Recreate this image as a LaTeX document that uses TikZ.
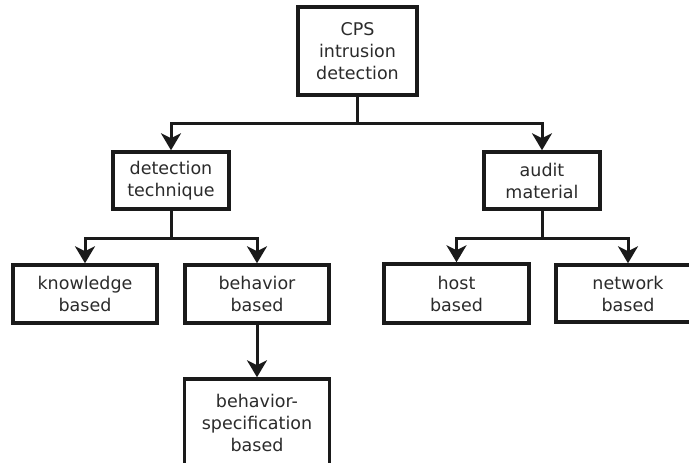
\documentclass[tikz,border=0pt]{standalone}
\usepackage{fontspec}
\setmainfont{DejaVu Sans}
\usetikzlibrary{arrows.meta}
\definecolor{txt}{HTML}{2B2B2B}
\definecolor{ln}{HTML}{1A1A1A}
\tikzset{
  box/.style={draw=ln, line width=3.5pt, fill=white, align=center, text=txt,
    font=\fontsize{17.5}{22}\selectfont, inner sep=0pt, anchor=center},
  arr/.style={draw=ln, line width=3pt, -{Stealth[length=17pt,width=20pt,inset=5pt]}},
  ln/.style={draw=ln, line width=3pt}
}
\begin{document}
\begin{tikzpicture}[x=1pt,y=-1pt]
\useasboundingbox (0,0) rectangle (689,463);
\clip (0,0) rectangle (689,463);
\fill[white] (0,0) rectangle (689,463);
\node[box, minimum width=119pt, minimum height=88pt] (cps) at (357.5,51) {CPS\\intrusion\\detection};
\node[box, minimum width=116pt, minimum height=57pt] (det) at (171,180.5) {detection\\technique};
\node[box, minimum width=116pt, minimum height=57pt] (aud) at (542,180.5) {audit\\material};
\node[box, minimum width=144pt, minimum height=58pt] (kno) at (85,294) {knowledge\\based};
\node[box, minimum width=144pt, minimum height=58pt] (beh) at (257,294) {behavior\\based};
\node[box, minimum width=145pt, minimum height=59pt] (hos) at (456.5,293.5) {host\\based};
\node[box, minimum width=144pt, minimum height=57pt] (net) at (628,293.5) {network\\based};
\node[box, minimum width=145pt, minimum height=88pt] (spe) at (257,423) {behavior-\\specification\\based};
\draw[arr] (cps.south) -- ++(0,27) -| (det.north);
\draw[arr] (cps.south) -- ++(0,27) -| (aud.north);
\draw[arr] (det.south) -- ++(0,28) -| (kno.north);
\draw[arr] (det.south) -- ++(0,28) -| (beh.north);
\draw[arr] (aud.south) -- ++(0,28) -| (hos.north);
\draw[arr] (aud.south) -- ++(0,28) -| (net.north);
\draw[arr] (beh.south) -- (spe.north);
\end{tikzpicture}
\end{document}
